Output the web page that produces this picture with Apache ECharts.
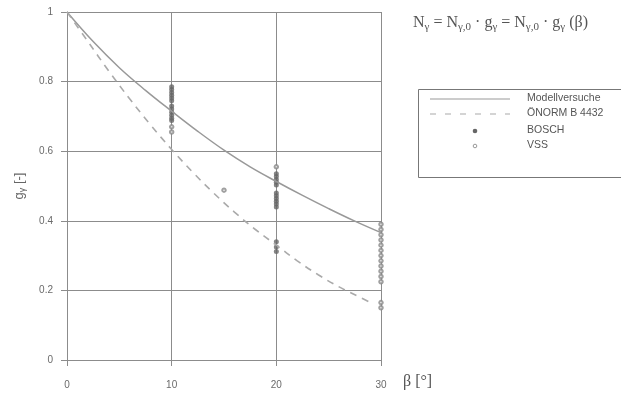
<!DOCTYPE html>
<html>
<head>
<meta charset="utf-8">
<script src="https://cdn.jsdelivr.net/npm/echarts@6/dist/echarts.min.js"></script>
<style>html,body{margin:0;padding:0;background:#fff}#c{width:621px;height:395px}</style>
</head>
<body>
<div id="c"></div>
<script>
// Data
const modellX = [0, 2.5, 5, 7.5, 10, 12.5, 15, 17.5, 20, 22.5, 25, 27.5, 30];
const modellY = [1.0, 0.915, 0.84, 0.775, 0.715, 0.657, 0.603, 0.555, 0.513, 0.473, 0.435, 0.399, 0.366];
const onormX = [0, 2, 4, 6, 8, 10, 12, 14, 16, 18, 20, 22, 24, 26, 28, 29];
const onormY = [1.0, 0.915, 0.83, 0.75, 0.675, 0.605, 0.54, 0.48, 0.425, 0.375, 0.33, 0.285, 0.245, 0.21, 0.18, 0.165];
const boschX = [10, 10, 10, 10, 10, 10, 10, 10, 10, 10, 10, 10,
                20, 20, 20, 20, 20, 20, 20, 20, 20, 20, 20, 20, 20, 20];
const boschY = [0.785, 0.777, 0.769, 0.761, 0.753, 0.745, 0.73, 0.721, 0.712, 0.703, 0.695, 0.688,
                0.535, 0.527, 0.519, 0.511, 0.503, 0.48, 0.472, 0.464, 0.456, 0.448, 0.44, 0.34, 0.325, 0.312];
const vssX = [15, 10, 10, 20, 30, 30, 30, 30, 30, 30, 30, 30, 30, 30, 30, 30, 30, 30];
const vssY = [0.488, 0.67, 0.655, 0.555, 0.39, 0.375, 0.36, 0.345, 0.33, 0.315, 0.30, 0.285, 0.27, 0.255, 0.24, 0.225, 0.165, 0.15];
const xTicks = [0, 10, 20, 30];
const yTicks = [0, 0.2, 0.4, 0.6, 0.8, 1];
const legendNames = ['Modellversuche', 'ÖNORM B 4432', 'BOSCH', 'VSS'];

const zip = (xs, ys) => xs.map((x, i) => [x, ys[i]]);
const gridCol = '#8c8c8c';
const txtCol = '#6a6a6a';

const chart = echarts.init(document.getElementById('c'), null, {renderer: 'canvas'});
chart.setOption({
  backgroundColor: '#fff',
  animation: false,
  grid: {left: 67, right: 240, top: 12, bottom: 35},
  xAxis: {
    type: 'value', min: xTicks[0], max: xTicks[xTicks.length - 1], interval: 10,
    axisLine: {show: true, lineStyle: {color: gridCol, width: 1}},
    axisTick: {show: true, length: 6, lineStyle: {color: gridCol}},
    splitLine: {show: true, lineStyle: {color: gridCol, width: 1}},
    axisLabel: {margin: 20, color: txtCol, fontSize: 10, fontFamily: 'Liberation Sans'},
    name: 'β [°]', nameLocation: 'end', nameGap: 22,
    nameTextStyle: {fontFamily: 'Liberation Serif', fontSize: 16, color: '#555', verticalAlign: 'top', padding: [14, 0, 0, 0]}
  },
  yAxis: {
    type: 'value', min: yTicks[0], max: yTicks[yTicks.length - 1], interval: 0.2,
    axisLine: {show: true, lineStyle: {color: gridCol, width: 1}},
    axisTick: {show: true, length: 6, lineStyle: {color: gridCol}},
    splitLine: {show: true, lineStyle: {color: gridCol, width: 1}},
    axisLabel: {margin: 14, color: txtCol, fontSize: 10, fontFamily: 'Liberation Sans'},
    name: '{a|g}{b|γ}{a| [-]}', nameLocation: 'middle', nameGap: 40, nameRotate: 90,
    nameTextStyle: {
      rich: {
        a: {fontFamily: 'Liberation Sans', fontSize: 13, color: '#666', lineHeight: 16},
        b: {fontFamily: 'Liberation Sans', fontSize: 9, color: '#666', lineHeight: 16, verticalAlign: 'bottom'}
      }
    }
  },
  series: [
    {name: legendNames[0], type: 'line', data: zip(modellX, modellY), smooth: 0.4, symbol: 'none',
     lineStyle: {color: '#999', width: 1.5}},
    {name: legendNames[1], type: 'line', data: zip(onormX, onormY), smooth: 0.4, symbol: 'none',
     lineStyle: {color: '#aaa', width: 1.6, type: [7, 6]}},
    {name: legendNames[2], type: 'scatter', data: zip(boschX, boschY), symbol: 'circle', symbolSize: 5,
     itemStyle: {color: '#666'}},
    {name: legendNames[3], type: 'scatter', data: zip(vssX, vssY), symbol: 'emptyCircle', symbolSize: 3.5,
     itemStyle: {color: '#888', borderColor: '#888', borderWidth: 1}}
  ],
  graphic: [
    {type: 'text', left: 413, top: 15,
     style: {
       text: '{n|N}{s|γ}{n| = N}{s|γ,0}{n| · g}{s|γ}{n| = N}{s|γ,0}{n| · g}{s|γ}{n| (β)}',
       rich: {
         n: {fontFamily: 'Liberation Serif', fontSize: 16, fill: '#555', lineHeight: 19},
         s: {fontFamily: 'Liberation Serif', fontSize: 11, fill: '#555', lineHeight: 19, verticalAlign: 'bottom'}
       }
     }},
    {type: 'rect', shape: {x: 418.5, y: 89.5, width: 220, height: 88}, style: {fill: 'none', stroke: '#777', lineWidth: 1}},
    {type: 'line', shape: {x1: 430, y1: 99, x2: 510, y2: 99}, style: {stroke: '#999', lineWidth: 1.2}},
    {type: 'line', shape: {x1: 430, y1: 114, x2: 510, y2: 114}, style: {stroke: '#aaa', lineWidth: 1.2, lineDash: [6, 9]}},
    {type: 'circle', shape: {cx: 475, cy: 131, r: 2.3}, style: {fill: '#666'}},
    {type: 'circle', shape: {cx: 475, cy: 146, r: 1.8}, style: {fill: 'none', stroke: '#999', lineWidth: 1}},
    {type: 'text', left: 527, top: 93, style: {text: legendNames[0], fontFamily: 'Liberation Sans', fontSize: 10.5, fill: '#555'}},
    {type: 'text', left: 527, top: 108, style: {text: legendNames[1], fontFamily: 'Liberation Sans', fontSize: 10.5, fill: '#555'}},
    {type: 'text', left: 527, top: 125, style: {text: legendNames[2], fontFamily: 'Liberation Sans', fontSize: 10.5, fill: '#555'}},
    {type: 'text', left: 527, top: 140, style: {text: legendNames[3], fontFamily: 'Liberation Sans', fontSize: 10.5, fill: '#555'}}
  ]
});
</script>
</body>
</html>
